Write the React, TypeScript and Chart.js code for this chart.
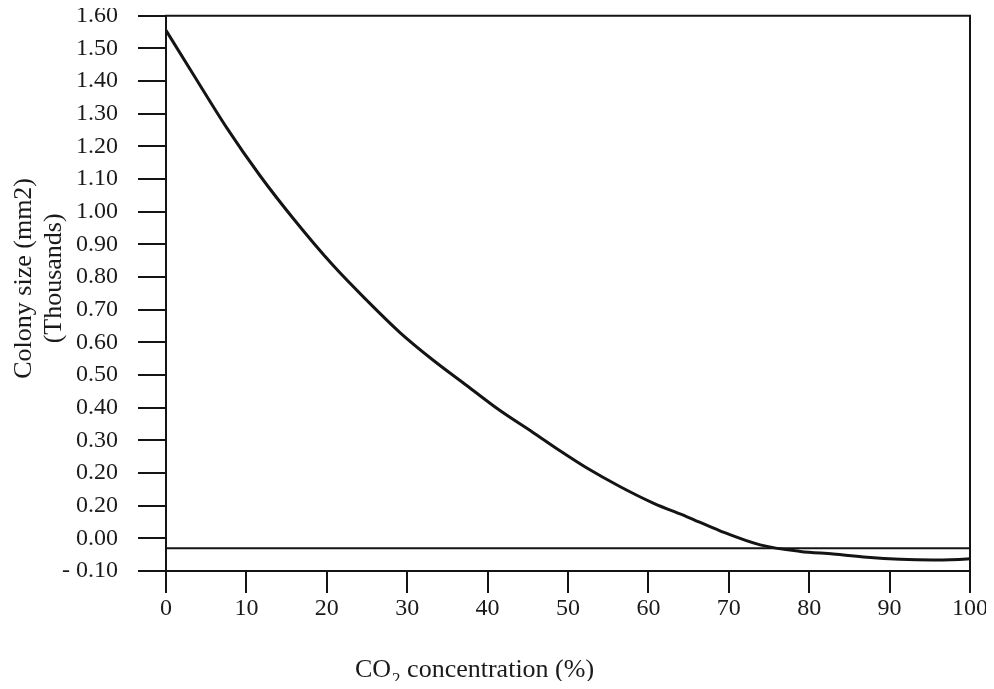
import React, { useEffect, useRef } from "react";
import { Chart, registerables } from "chart.js";

Chart.register(...registerables);

// ---- data ----
const co2Concentration = [
  0, 3.4, 7.6, 11.7, 15.8, 20.8, 25.0, 29.1, 33.2, 37.4, 41.5, 45.6, 49.0, 52.3,
  56.5, 60.6, 64.8, 68.9, 73.9, 78.9, 83.0, 87.2, 91.3, 95.4, 99.6, 100,
];
const colonySize = [
  1.555, 1.42, 1.255, 1.11, 0.98, 0.835, 0.728, 0.63, 0.546, 0.468, 0.392, 0.325,
  0.268, 0.216, 0.158, 0.108, 0.066, 0.023, -0.02, -0.04, -0.048, -0.058, -0.064,
  -0.066, -0.063, -0.062,
];
const baselineX = [0, 100];
const baselineY = [-0.03, -0.03];

const xTickValues = [0, 10, 20, 30, 40, 50, 60, 70, 80, 90, 100];
const yTickValues = [
  -0.1, 0, 0.1, 0.2, 0.3, 0.4, 0.5, 0.6, 0.7, 0.8, 0.9, 1.0, 1.1, 1.2, 1.3, 1.4, 1.5, 1.6,
];
const yTickLabels = [
  "- 0.10", "0.00", "0.20", "0.20", "0.30", "0.40", "0.50", "0.60", "0.70", "0.80",
  "0.90", "1.00", "1.10", "1.20", "1.30", "1.40", "1.50", "1.60",
];
const xAxisTitle = ["CO", "2", " concentration (%)"];
const yAxisTitle = ["Colony size (mm2)", "(Thousands)"];

// ---- styling ----
const FONT = '"Liberation Serif", "Times New Roman", serif';
const INK = "#141414";
const TEXT = "#1a1a1a";
const W = 986;
const H = 689;

const framePlugin = {
  id: "frameAndTitles",
  afterDraw(chart: any) {
    const { ctx, chartArea: a } = chart;
    ctx.save();
    // top and right frame lines
    ctx.strokeStyle = INK;
    ctx.lineWidth = 2;
    ctx.beginPath();
    ctx.moveTo(a.left - 1, a.top);
    ctx.lineTo(a.right, a.top);
    ctx.lineTo(a.right, a.bottom);
    ctx.stroke();

    // y-axis title (two rotated lines)
    ctx.fillStyle = TEXT;
    ctx.font = `26px ${FONT}`;
    ctx.textAlign = "center";
    ctx.textBaseline = "middle";
    const cy = (a.top + a.bottom) / 2 - 15;
    const lineX = [16, 46];
    yAxisTitle.forEach((t, i) => {
      ctx.save();
      ctx.translate(lineX[i], cy);
      ctx.rotate(-Math.PI / 2);
      ctx.fillText(t, 0, 0);
      ctx.restore();
    });

    // x-axis title with subscript
    ctx.textAlign = "left";
    ctx.textBaseline = "alphabetic";
    let x = 347;
    const base = 677;
    ctx.font = `26px ${FONT}`;
    ctx.fillText(xAxisTitle[0], x, base);
    x += ctx.measureText(xAxisTitle[0]).width;
    ctx.font = `17px ${FONT}`;
    ctx.fillText(xAxisTitle[1], x + 1, base + 7);
    x += ctx.measureText(xAxisTitle[1]).width + 1;
    ctx.font = `26px ${FONT}`;
    ctx.fillText(xAxisTitle[2], x, base);
    ctx.restore();
  },
};

export default function App() {
  const ref = useRef<HTMLCanvasElement | null>(null);

  useEffect(() => {
    if (!ref.current) return;
    const chart = new Chart(ref.current, {
      type: "scatter",
      data: {
        datasets: [
          {
            data: co2Concentration.map((x, i) => ({ x, y: colonySize[i] })),
            showLine: true,
            borderColor: INK,
            borderWidth: 3,
            pointRadius: 0,
            cubicInterpolationMode: "monotone",
          },
          {
            data: baselineX.map((x, i) => ({ x, y: baselineY[i] })),
            showLine: true,
            borderColor: INK,
            borderWidth: 2,
            pointRadius: 0,
          },
        ],
      },
      options: {
        responsive: false,
        animation: false,
        devicePixelRatio: 1,
        layout: { padding: { left: 0, top: 15.7, right: 24, bottom: 0 } },
        plugins: {
          legend: { display: false },
          tooltip: { enabled: false },
        },
        scales: {
          x: {
            type: "linear",
            min: 0,
            max: 100,
            afterBuildTicks: (scale: any) => {
              scale.ticks = xTickValues.map((v) => ({ value: v }));
            },
            afterFit: (scale: any) => {
              scale.height = 118;
              scale.paddingLeft = 0;
              scale.paddingRight = 0;
            },
            border: { display: true, color: INK, width: 2 },
            grid: {
              drawOnChartArea: false,
              drawTicks: true,
              tickLength: 22,
              color: INK,
              lineWidth: 2,
            },
            ticks: {
              color: TEXT,
              font: { family: FONT, size: 24 },
              padding: 1,
              maxRotation: 0,
              autoSkip: false,
            },
          },
          y: {
            type: "linear",
            min: -0.1,
            max: 1.6,
            afterBuildTicks: (scale: any) => {
              scale.ticks = yTickValues.map((v) => ({ value: v }));
            },
            afterFit: (scale: any) => {
              scale.width = 158;
              scale.paddingTop = 0;
              scale.paddingBottom = 0;
            },
            border: { display: true, color: INK, width: 2 },
            grid: {
              drawOnChartArea: false,
              drawTicks: true,
              tickLength: 28,
              color: INK,
              lineWidth: 2,
            },
            ticks: {
              color: TEXT,
              font: { family: FONT, size: 24 },
              padding: 20,
              autoSkip: false,
              callback: (_v: any, i: number) => yTickLabels[i],
            },
          },
        },
      } as any,
      plugins: [framePlugin],
    });
    return () => chart.destroy();
  }, []);

  return (
    <div style={{ width: W, height: H, marginTop: -8, marginBottom: -8 }}>
      <canvas ref={ref} width={W} height={H} style={{ display: "block", width: W, height: H }} />
    </div>
  );
}
